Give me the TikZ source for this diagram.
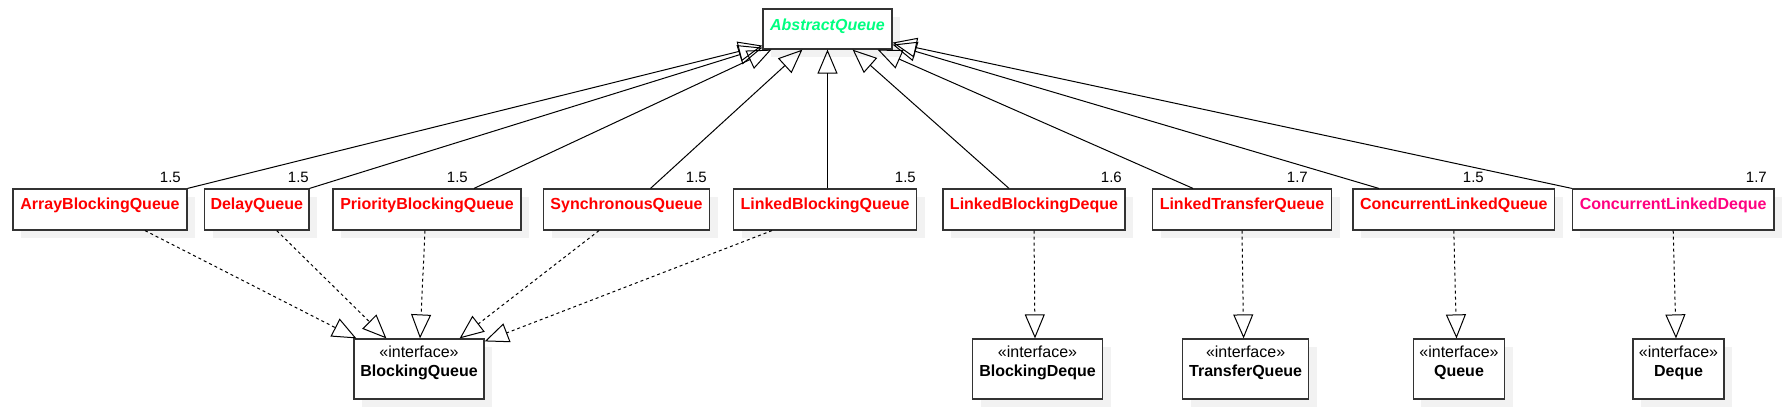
\documentclass[tikz,border=0pt]{standalone}
\usepackage{fontspec}
\setmainfont{Liberation Sans}
\usetikzlibrary{arrows.meta,shadows}
\definecolor{clsred}{RGB}{255,0,0}
\definecolor{clspink}{RGB}{255,0,128}
\definecolor{absgreen}{RGB}{0,255,128}
\begin{document}
\begin{tikzpicture}[x=1pt,y=-1pt]
\tikzstyle{every node}+=[inner sep=0pt]
\tikzstyle{box}=[draw=black!80, line width=1.2pt, fill=white, drop shadow={shadow xshift=8pt, shadow yshift=-8pt, fill=black!5, opacity=1}]
\tikzstyle{cls}=[box, text height=20.5pt, text depth=20.5pt, text=clsred, font=\fontsize{16}{19}\selectfont\bfseries]
\tikzstyle{iface}=[box, text height=18pt, text depth=42pt, text=black, font=\fontsize{16}{19}\selectfont]
\tikzstyle{ver}=[anchor=base east, font=\fontsize{15}{18}\selectfont]
\tikzstyle{ext}=[-{Triangle[open,length=24pt,width=20pt]}, line width=1pt]
\tikzstyle{impl}=[ext, dash pattern=on 3pt off 3pt]
\fill [white] (0,0) rectangle (1792,416);
\useasboundingbox (0,0) rectangle (1792,416);
% parent class
\node [box, minimum width=129, text height=21pt, text depth=19pt, text=absgreen, font=\fontsize{16}{19}\selectfont\bfseries\itshape] (aq) at (827.5,29) {AbstractQueue};
% implementations
\node [cls, minimum width=174] (abq) at (100,209.5) {ArrayBlockingQueue};
\node [cls, minimum width=104.5] (dq) at (256.75,209.5) {DelayQueue};
\node [cls, minimum width=188] (pbq) at (427,209.5) {PriorityBlockingQueue};
\node [cls, minimum width=166] (sq) at (626.5,209.5) {SynchronousQueue};
\node [cls, minimum width=183] (lbq) at (825,209.5) {LinkedBlockingQueue};
\node [cls, minimum width=182] (lbd) at (1034,209.5) {LinkedBlockingDeque};
\node [cls, minimum width=179] (ltq) at (1242,209.5) {LinkedTransferQueue};
\node [cls, minimum width=201.6] (clq) at (1453.8,209.5) {ConcurrentLinkedQueue};
\node [cls, minimum width=201.6, text=clspink] (cld) at (1673.2,209.5) {ConcurrentLinkedDeque};
% since versions
\node [ver] (abqv) at (181,182.5) {1.5};
\node [ver] (dqv) at (309,182.5) {1.5};
\node [ver] (pbqv) at (468,182.5) {1.5};
\node [ver] (sqv) at (707,182.5) {1.5};
\node [ver] (lbqv) at (916,182.5) {1.5};
\node [ver] (lbdv) at (1122,182.5) {1.6};
\node [ver] (ltqv) at (1308,182.5) {1.7};
\node [ver] (clqv) at (1484,182.5) {1.5};
\node [ver] (cldv) at (1767,182.5) {1.7};
% interfaces
\node [iface, minimum width=130] (bq) at (419,369) {\begin{tabular}[t]{@{}c@{}}«interface»\\\textbf{BlockingQueue}\end{tabular}};
\node [iface, minimum width=130] (bd) at (1037.5,369) {\begin{tabular}[t]{@{}c@{}}«interface»\\\textbf{BlockingDeque}\end{tabular}};
\node [iface, minimum width=126] (tq) at (1245.6,369) {\begin{tabular}[t]{@{}c@{}}«interface»\\\textbf{TransferQueue}\end{tabular}};
\node [iface, minimum width=91.5] (qu) at (1459,369) {\begin{tabular}[t]{@{}c@{}}«interface»\\\textbf{Queue}\end{tabular}};
\node [iface, minimum width=91] (dqi) at (1678.5,369) {\begin{tabular}[t]{@{}c@{}}«interface»\\\textbf{Deque}\end{tabular}};
% extends
\draw [ext] (abq.north east) -- ([yshift=4pt]aq.south west);
\draw [ext] (dq.north east) -- ([yshift=2pt]aq.south west);
\draw [ext] ([xshift=47pt]pbq.north) -- ([xshift=9pt]aq.south west);
\draw [ext] ([xshift=24pt]sq.north) -- ([xshift=40pt]aq.south west);
\draw [ext] ([xshift=2.5pt]lbq.north) -- (aq.south);
\draw [ext] ([xshift=-25pt]lbd.north) -- ([xshift=-40pt]aq.south east);
\draw [ext] ([xshift=-49pt]ltq.north) -- ([xshift=-15pt]aq.south east);
\draw [ext] ([xshift=-75pt]clq.north) -- ([yshift=5pt]aq.south east);
\draw [ext] (cld.north west) -- ([yshift=7pt]aq.south east);
% implements
\draw [impl] ([xshift=45pt]abq.south) -- ([xshift=3pt]bq.north west);
\draw [impl] ([xshift=20pt]dq.south) -- ([xshift=33pt]bq.north west);
\draw [impl] ([xshift=-2pt]pbq.south) -- ([xshift=1pt]bq.north);
\draw [impl] ([xshift=-27.5pt]sq.south) -- ([xshift=-25pt]bq.north east);
\draw [impl] ([xshift=-53pt]lbq.south) -- ([yshift=-3pt]bq.north east);
\draw [impl] (lbd.south) -- ([xshift=-2.5pt]bd.north);
\draw [impl] (ltq.south) -- ([xshift=-2pt]tq.north);
\draw [impl] (clq.south) -- ([xshift=-2.5pt]qu.north);
\draw [impl] (cld.south) -- ([xshift=-2.5pt]dqi.north);
\end{tikzpicture}
\end{document}
